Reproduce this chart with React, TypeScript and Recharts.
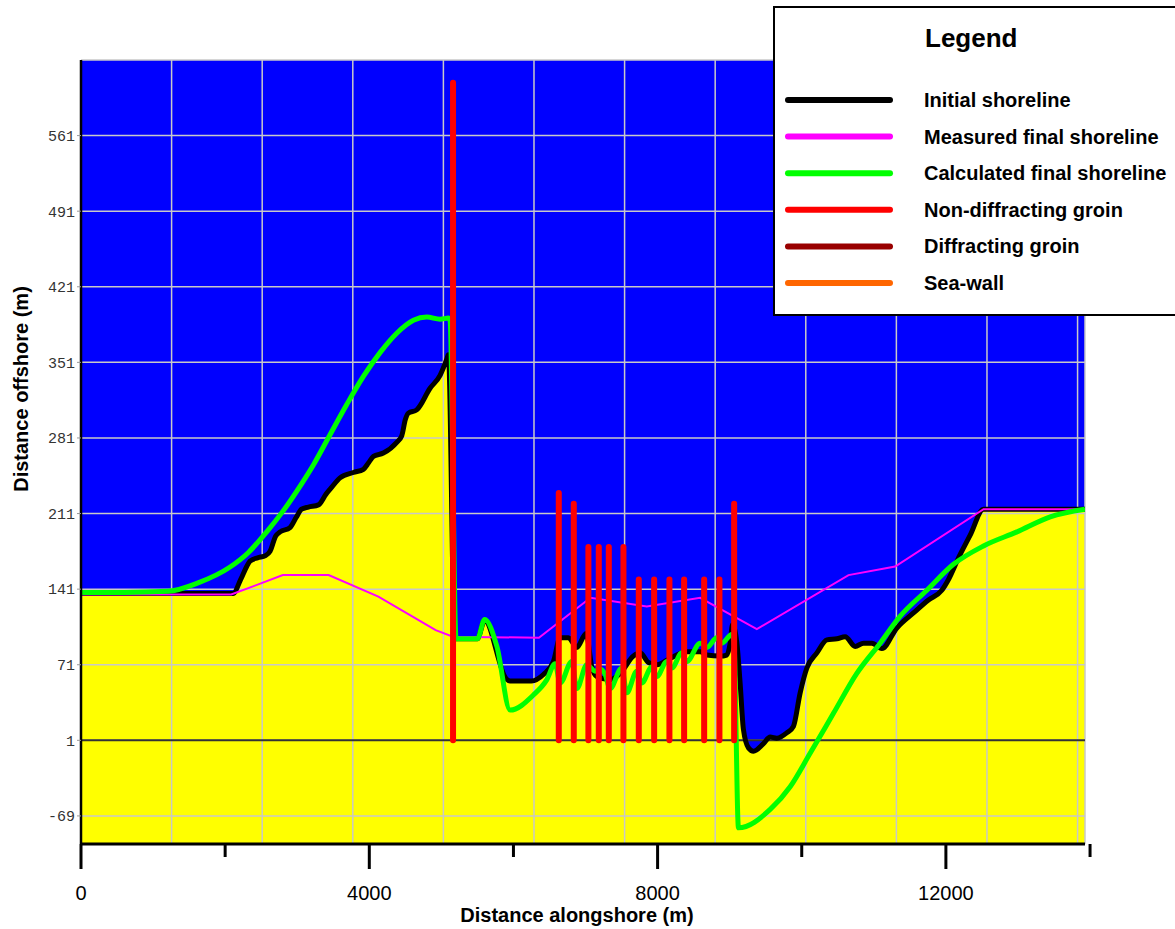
import React from 'react';
import { ComposedChart, Area, Line, XAxis, YAxis, CartesianGrid, ReferenceLine } from 'recharts';

// [distance alongshore (m), distance offshore (m)]
const initialShoreline: [number, number][] = [
  [0, 137], [2110, 137], [2216, 150], [2299, 162], [2345, 167], [2450, 170], [2560, 172],
  [2623, 176], [2700, 190], [2762, 194], [2900, 198], [2990, 208], [3060, 215], [3155, 217],
  [3294, 219], [3400, 229], [3462, 234], [3594, 244], [3779, 249], [3918, 252], [3990, 258],
  [4057, 264], [4195, 267], [4381, 277], [4450, 283], [4500, 298], [4542, 304], [4658, 307],
  [4843, 327], [4982, 339], [5075, 354], [5097, 358], [5185, 95], [5500, 95], [5600, 112],
  [5900, 58], [5950, 56], [6250, 56], [6416, 62], [6555, 74], [6647, 96], [6763, 96],
  [6879, 87], [7008, 100], [7087, 69], [7156, 60], [7341, 57], [7480, 63], [7665, 79],
  [7758, 82], [7873, 73], [7989, 71], [8174, 77], [8405, 83], [8590, 83], [8683, 80],
  [8867, 79], [8960, 80], [9007, 91], [9039, 108], [9100, 91], [9145, 54], [9191, 11],
  [9261, -6], [9330, -9], [9469, -2], [9562, 4], [9654, 3], [9793, 8], [9885, 14],
  [9978, 45], [10071, 68], [10210, 82], [10349, 94], [10488, 95], [10602, 97], [10741, 88],
  [10857, 91], [10972, 91], [11111, 86], [11319, 105], [11550, 119], [11758, 131],
  [11943, 140], [12036, 150], [12175, 170], [12337, 191], [12522, 215], [13930, 215],
];

const measuredShoreline: [number, number][] = [
  [0, 136], [2084, 136], [2800, 154], [3436, 154], [4126, 134], [4921, 103], [5160, 97],
  [6353, 96], [7069, 133], [7850, 125], [8590, 133], [9377, 104], [10649, 154], [11296, 162],
  [12522, 215], [13930, 215],
];

const calculatedShoreline: [number, number][] = [
  [0, 138], [600, 138], [1209, 139], [1633, 147], [2058, 161], [2323, 175], [2588, 195],
  [2800, 213], [3065, 239], [3224, 256], [3455, 284], [3687, 312], [3918, 338], [4149, 360],
  [4381, 378], [4612, 390], [4797, 393], [4982, 391], [5097, 392], [5120, 390], [5204, 95],
  [5500, 95], [5600, 113], [5770, 88], [5954, 29], [6277, 43], [6462, 57], [6578, 72],
  [6647, 54], [6809, 74], [6879, 49], [7018, 71], [7133, 65], [7202, 67], [7272, 62],
  [7341, 49], [7503, 68], [7572, 45], [7711, 65], [7780, 54], [7919, 69], [7989, 60],
  [8128, 74], [8197, 68], [8336, 82], [8405, 74], [8590, 91], [8683, 87], [8822, 96],
  [8891, 91], [9030, 99], [9060, 92], [9122, -80], [9562, -63], [9839, -42], [10116, -11],
  [10440, 26], [10764, 63], [11088, 91], [11366, 116], [11736, 140], [12105, 164],
  [12522, 181], [12985, 194], [13448, 208], [13930, 215],
];

const groinX = [5162, 6629, 6837, 7040, 7184, 7323, 7526, 7739, 7952, 8164, 8368, 8646, 8858, 9062];
const groinTop = [610, 230, 220, 180, 180, 180, 180, 150, 150, 150, 150, 150, 150, 220];
const groinBase = 1;

const xTicks = [0, 2000, 4000, 6000, 8000, 10000, 12000, 14000];
const gridX = [1257, 2514, 3771, 5028, 6285, 7542, 8799, 10056, 11313, 12570, 13827];
const yTicks = [-69, 1, 71, 141, 211, 281, 351, 421, 491, 561];
const xDomain = [0, 13930];
const yDomain = [-95, 631];

const legendItems = [
  { name: 'Initial shoreline', color: '#000000' },
  { name: 'Measured final shoreline', color: '#ff00ff' },
  { name: 'Calculated final shoreline', color: '#00ff00' },
  { name: 'Non-diffracting groin', color: '#ff0000' },
  { name: 'Diffracting groin', color: '#990000' },
  { name: 'Sea-wall', color: '#ff6600' },
];

const toPoints = (rows: [number, number][]) => rows.map(([x, y]) => ({ x, y }));

const initialData = toPoints(initialShoreline);
const measuredData = toPoints(measuredShoreline);
const calculatedData = toPoints(calculatedShoreline);
const groinData = groinX.flatMap((x, i) => [
  { x, y: groinBase },
  { x, y: groinTop[i] },
  { x, y: null },
]);

const FONT = '"Liberation Sans", Arial, Helvetica, sans-serif';

const AlongshoreTick = ({ x, y, payload }: any) => {
  const major = payload.value % 4000 === 0;
  return (
    <g>
      <line x1={x} y1={y} x2={x} y2={y + (major ? 25 : 13)} stroke="#000" strokeWidth={3} />
      {major && (
        <text x={x} y={y + 56} textAnchor="middle" fontSize={20} fontFamily={FONT} fill="#000">
          {payload.value}
        </text>
      )}
    </g>
  );
};

const ShorelineLegend = () => (
  <svg width={420} height={320} style={{ position: 'absolute', left: 772, top: 5 }}>
    <rect x={2} y={2} width={430} height={308} fill="#fff" stroke="#000" strokeWidth={2} />
    <text x={153} y={42} fontSize={26} fontWeight="bold" fontFamily={FONT} fill="#000">
      Legend
    </text>
    {legendItems.map((item, i) => {
      const baseline = 102 + i * 36.6;
      return (
        <g key={item.name}>
          <line x1={16} x2={118} y1={baseline - 7} y2={baseline - 7} stroke={item.color} strokeWidth={6} strokeLinecap="round" />
          <text x={152} y={baseline} fontSize={20} fontWeight="bold" fontFamily={FONT} fill="#000">
            {item.name}
          </text>
        </g>
      );
    })}
  </svg>
);

const App: React.FC = () => {
  return (
    <div style={{ position: 'absolute', left: 0, top: 0, width: 1175, height: 929, overflow: 'hidden', background: '#fff' }}>
      <ComposedChart width={1175} height={929} margin={{ top: 60, right: 90, bottom: 0, left: 0 }}>
        <CartesianGrid fill="#0000ff" stroke="none" horizontal={false} vertical={false} />
        <XAxis
          dataKey="x"
          type="number"
          domain={xDomain}
          allowDataOverflow
          ticks={xTicks}
          interval={0}
          height={85}
          tickSize={0}
          tickMargin={0}
          tick={<AlongshoreTick />}
          axisLine={{ stroke: '#000', strokeWidth: 3 }}
          label={{
            content: () => (
              <text x={577} y={922} textAnchor="middle" fontSize={20} fontWeight="bold" fontFamily={FONT} fill="#000">
                Distance alongshore (m)
              </text>
            ),
          }}
        />
        <XAxis xAxisId="grid" dataKey="x" type="number" domain={xDomain} allowDataOverflow ticks={gridX} interval={0} hide />
        <YAxis
          type="number"
          domain={yDomain}
          allowDataOverflow
          ticks={yTicks}
          interval={0}
          width={81}
          tickSize={4}
          tickMargin={2}
          tick={{ fontSize: 15, fontFamily: '"Liberation Mono", "DejaVu Sans Mono", monospace', fill: '#333' }}
          tickLine={{ stroke: '#999' }}
          axisLine={{ stroke: '#000', strokeWidth: 2.5 }}
          label={{
            content: () => (
              <text transform="translate(28,389) rotate(-90)" textAnchor="middle" fontSize={20} fontWeight="bold" fontFamily={FONT} fill="#000">
                Distance offshore (m)
              </text>
            ),
          }}
        />
        <Area
          data={initialData}
          dataKey="y"
          type="monotone"
          baseValue={yDomain[0]}
          fill="#ffff00"
          fillOpacity={1}
          stroke="none"
          isAnimationActive={false}
          activeDot={false}
        />
        <CartesianGrid xAxisId="grid" stroke="#c8c8c8" strokeWidth={1.5} fill="none" zIndex={150} />
        <ReferenceLine y={1} stroke="#333" strokeWidth={2} />
        <Line data={initialData} dataKey="y" type="monotone" stroke="#000" strokeWidth={5} dot={false} activeDot={false} strokeLinejoin="round" isAnimationActive={false} />
        <Line data={measuredData} dataKey="y" type="linear" stroke="#ff00ff" strokeWidth={2} dot={false} activeDot={false} isAnimationActive={false} />
        <Line data={calculatedData} dataKey="y" type="monotone" stroke="#00ff00" strokeWidth={5} dot={false} activeDot={false} strokeLinejoin="round" isAnimationActive={false} />
        <Line data={groinData} dataKey="y" type="linear" stroke="#ff0000" strokeWidth={6} strokeLinecap="round" dot={false} activeDot={false} connectNulls={false} isAnimationActive={false} />
      </ComposedChart>
      <ShorelineLegend />
    </div>
  );
};

export default App;
